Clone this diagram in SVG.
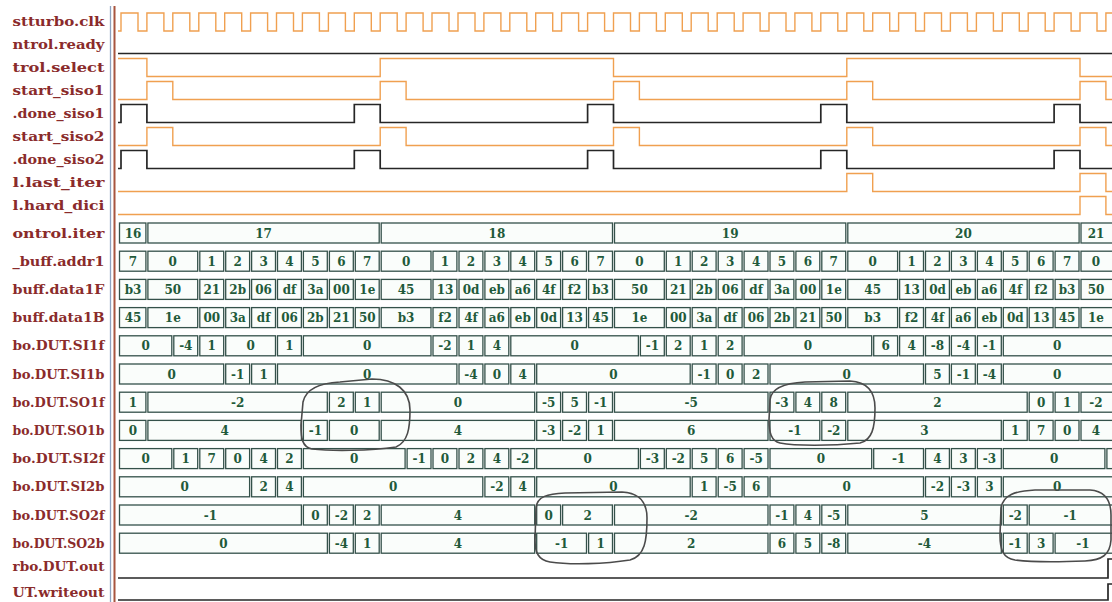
<svg xmlns="http://www.w3.org/2000/svg" xmlns:xlink="http://www.w3.org/1999/xlink" width="1112" height="602" viewBox="0 0 1112 602">
<style>
.lbl{font-family:"DejaVu Serif","Liberation Serif",serif;font-weight:bold;font-size:13px;fill:#8a2b2b;text-anchor:end}
.val{font-family:"DejaVu Serif","Liberation Serif",serif;font-weight:bold;font-size:12px;fill:#1f5a3a;text-anchor:middle}
.box{fill:#fafdfb;stroke:#34514a;stroke-width:1.3}
.org{fill:none;stroke:#f0a050;stroke-width:1.4}
.blk{fill:none;stroke:#262626;stroke-width:1.7}
.pen{fill:none;stroke:#4b4b4b;stroke-width:1.6;stroke-linejoin:round}
</style>
<defs>
<g id="cells9">
<rect class="box" x="119.5" y="0" width="26.4" height="20"/>
<rect class="box" x="147.9" y="0" width="49.8" height="20"/><rect class="box" x="199.8" y="0" width="23.9" height="20"/><rect class="box" x="225.7" y="0" width="23.9" height="20"/><rect class="box" x="251.6" y="0" width="23.9" height="20"/><rect class="box" x="277.5" y="0" width="23.9" height="20"/><rect class="box" x="303.4" y="0" width="23.9" height="20"/><rect class="box" x="329.4" y="0" width="23.9" height="20"/><rect class="box" x="355.3" y="0" width="23.9" height="20"/>
<rect class="box" x="381.2" y="0" width="49.8" height="20"/><rect class="box" x="433.0" y="0" width="23.9" height="20"/><rect class="box" x="459.0" y="0" width="23.9" height="20"/><rect class="box" x="484.9" y="0" width="23.9" height="20"/><rect class="box" x="510.8" y="0" width="23.9" height="20"/><rect class="box" x="536.7" y="0" width="23.9" height="20"/><rect class="box" x="562.6" y="0" width="23.9" height="20"/><rect class="box" x="588.6" y="0" width="23.9" height="20"/>
<rect class="box" x="614.5" y="0" width="49.8" height="20"/><rect class="box" x="666.3" y="0" width="23.9" height="20"/><rect class="box" x="692.2" y="0" width="23.9" height="20"/><rect class="box" x="718.2" y="0" width="23.9" height="20"/><rect class="box" x="744.1" y="0" width="23.9" height="20"/><rect class="box" x="770.0" y="0" width="23.9" height="20"/><rect class="box" x="795.9" y="0" width="23.9" height="20"/><rect class="box" x="821.8" y="0" width="23.9" height="20"/>
<rect class="box" x="847.8" y="0" width="49.8" height="20"/><rect class="box" x="899.6" y="0" width="23.9" height="20"/><rect class="box" x="925.5" y="0" width="23.9" height="20"/><rect class="box" x="951.4" y="0" width="23.9" height="20"/><rect class="box" x="977.4" y="0" width="23.9" height="20"/><rect class="box" x="1003.3" y="0" width="23.9" height="20"/><rect class="box" x="1029.2" y="0" width="23.9" height="20"/><rect class="box" x="1055.1" y="0" width="23.9" height="20"/>
<rect class="box" x="1081" y="0" width="37" height="20"/>
</g>
</defs>
<rect x="0" y="0" width="1112" height="602" fill="#ffffff"/>

<g id="labels">
<text class="lbl" x="104.5" y="26" textLength="92" lengthAdjust="spacingAndGlyphs">stturbo.clk</text>
<text class="lbl" x="104.5" y="48.5" textLength="92" lengthAdjust="spacingAndGlyphs">ntrol.ready</text>
<text class="lbl" x="104.5" y="71.5" textLength="92" lengthAdjust="spacingAndGlyphs">trol.select</text>
<text class="lbl" x="104.5" y="94.5" textLength="92" lengthAdjust="spacingAndGlyphs">start_siso1</text>
<text class="lbl" x="104.5" y="117.5" textLength="92" lengthAdjust="spacingAndGlyphs">.done_siso1</text>
<text class="lbl" x="104.5" y="140.5" textLength="92" lengthAdjust="spacingAndGlyphs">start_siso2</text>
<text class="lbl" x="104.5" y="163.5" textLength="92" lengthAdjust="spacingAndGlyphs">.done_siso2</text>
<text class="lbl" x="104.5" y="186.5" textLength="92" lengthAdjust="spacingAndGlyphs">l.last_iter</text>
<text class="lbl" x="104.5" y="209.5" textLength="92" lengthAdjust="spacingAndGlyphs">l.hard_dici</text>
<text class="lbl" x="104.5" y="237.5" textLength="92" lengthAdjust="spacingAndGlyphs">ontrol.iter</text>
<text class="lbl" x="104.5" y="265.7" textLength="92" lengthAdjust="spacingAndGlyphs">_buff.addr1</text>
<text class="lbl" x="104.5" y="293.9" textLength="92" lengthAdjust="spacingAndGlyphs">buff.data1F</text>
<text class="lbl" x="104.5" y="322.1" textLength="92" lengthAdjust="spacingAndGlyphs">buff.data1B</text>
<text class="lbl" x="104.5" y="350.3" textLength="92" lengthAdjust="spacingAndGlyphs">bo.DUT.SI1f</text>
<text class="lbl" x="104.5" y="378.5" textLength="92" lengthAdjust="spacingAndGlyphs">bo.DUT.SI1b</text>
<text class="lbl" x="104.5" y="406.7" textLength="92" lengthAdjust="spacingAndGlyphs">bo.DUT.SO1f</text>
<text class="lbl" x="104.5" y="434.9" textLength="92" lengthAdjust="spacingAndGlyphs">bo.DUT.SO1b</text>
<text class="lbl" x="104.5" y="463.1" textLength="92" lengthAdjust="spacingAndGlyphs">bo.DUT.SI2f</text>
<text class="lbl" x="104.5" y="491.3" textLength="92" lengthAdjust="spacingAndGlyphs">bo.DUT.SI2b</text>
<text class="lbl" x="104.5" y="519.5" textLength="92" lengthAdjust="spacingAndGlyphs">bo.DUT.SO2f</text>
<text class="lbl" x="104.5" y="547.7" textLength="92" lengthAdjust="spacingAndGlyphs">bo.DUT.SO2b</text>
<text class="lbl" x="104.5" y="570.5" textLength="92" lengthAdjust="spacingAndGlyphs">rbo.DUT.out</text>
<text class="lbl" x="104.5" y="596.5" textLength="92" lengthAdjust="spacingAndGlyphs">UT.writeout</text>
</g>

<g id="separators">
<line x1="110.5" y1="6" x2="110.5" y2="602" stroke="#8da2c0" stroke-width="1.3"/>
<line x1="114.5" y1="6" x2="114.5" y2="602" stroke="#a8553f" stroke-width="2"/>
</g>

<g id="sig-clk">
<path class="org" d="M118 31H121V13H138V31H146.9V13H163.9V31H172.8V13H189.8V31H198.8V13H215.8V31H224.7V13H241.7V31H250.6V13H267.6V31H276.5V13H293.5V31H302.4V13H319.4V31H328.4V13H345.4V31H354.3V13H371.3V31H380.2V13H397.2V31H406.1V13H423.1V31H432V13H449V31H458V13H475V31H483.9V13H500.9V31H509.8V13H526.8V31H535.7V13H552.7V31H561.6V13H578.6V31H587.6V13H604.6V31H613.5V13H630.5V31H639.4V13H656.4V31H665.3V13H682.3V31H691.2V13H708.2V31H717.2V13H734.2V31H743.1V13H760.1V31H769V13H786V31H794.9V13H811.9V31H820.8V13H837.8V31H846.8V13H863.8V31H872.7V13H889.7V31H898.6V13H915.6V31H924.5V13H941.5V31H950.4V13H967.4V31H976.4V13H993.4V31H1002.3V13H1019.3V31H1028.2V13H1045.2V31H1054.1V13H1071.1V31H1080V13H1097V31H1105.9V13H1114"/>
</g>
<g id="sig-ready"><path class="blk" d="M118 53.5H1114"/></g>
<g id="sig-select"><path class="org" d="M118 58.5H146.9V76.5H380.2V58.5H613.5V76.5H846.8V58.5H1080V76.5H1114"/></g>
<g id="sig-start1"><path class="org" d="M118 99.5H146.9V81.5H172.8V99.5H380.2V81.5H406.1V99.5H613.5V81.5H639.4V99.5H846.8V81.5H872.7V99.5H1080V81.5H1105.9V99.5H1114"/></g>
<g id="sig-done1"><path class="blk" d="M118 122.5H121V104.5H146.9V122.5H354.3V104.5H380.2V122.5H587.6V104.5H613.5V122.5H820.8V104.5H846.8V122.5H1054.1V104.5H1080V122.5H1114"/></g>
<g id="sig-start2"><path class="org" d="M118 145.5H146.9V127.5H172.8V145.5H380.2V127.5H406.1V145.5H613.5V127.5H639.4V145.5H846.8V127.5H872.7V145.5H1080V127.5H1105.9V145.5H1114"/></g>
<g id="sig-done2"><path class="blk" d="M118 168.5H121V150.5H146.9V168.5H354.3V150.5H380.2V168.5H587.6V150.5H613.5V168.5H820.8V150.5H846.8V168.5H1054.1V150.5H1080V168.5H1114"/></g>
<g id="sig-last"><path class="org" d="M118 191.5H846.8V173.5H872.7V191.5H1080V173.5H1105.9V191.5H1114"/></g>
<g id="sig-hard"><path class="org" d="M118 214.5H1080V196.5H1105.9V214.5H1114"/></g>

<g id="bus-iter" transform="translate(0,223)">
<rect class="box" x="119.5" y="0" width="26.4" height="20"/><rect class="box" x="147.9" y="0" width="231.3" height="20"/><rect class="box" x="381.2" y="0" width="231.3" height="20"/><rect class="box" x="614.5" y="0" width="231.3" height="20"/><rect class="box" x="847.8" y="0" width="231.3" height="20"/><rect class="box" x="1081" y="0" width="37" height="20"/>
<text class="val" x="133" y="14.5">16</text><text class="val" x="263.6" y="14.5">17</text><text class="val" x="496.9" y="14.5">18</text><text class="val" x="730.2" y="14.5">19</text><text class="val" x="963.4" y="14.5">20</text><text class="val" x="1096" y="14.5">21</text>
</g>

<g id="bus-addr1" transform="translate(0,251.2)">
<use xlink:href="#cells9"/>
<text class="val" x="133" y="14.5">7</text>
<text class="val" x="172.8" y="14.5">0</text><text class="val" x="211.8" y="14.5">1</text><text class="val" x="237.7" y="14.5">2</text><text class="val" x="263.6" y="14.5">3</text><text class="val" x="289.5" y="14.5">4</text><text class="val" x="315.4" y="14.5">5</text><text class="val" x="341.4" y="14.5">6</text><text class="val" x="367.3" y="14.5">7</text>
<text class="val" x="406.1" y="14.5">0</text><text class="val" x="445" y="14.5">1</text><text class="val" x="471" y="14.5">2</text><text class="val" x="496.9" y="14.5">3</text><text class="val" x="522.8" y="14.5">4</text><text class="val" x="548.7" y="14.5">5</text><text class="val" x="574.6" y="14.5">6</text><text class="val" x="600.6" y="14.5">7</text>
<text class="val" x="639.4" y="14.5">0</text><text class="val" x="678.3" y="14.5">1</text><text class="val" x="704.2" y="14.5">2</text><text class="val" x="730.2" y="14.5">3</text><text class="val" x="756.1" y="14.5">4</text><text class="val" x="782" y="14.5">5</text><text class="val" x="807.9" y="14.5">6</text><text class="val" x="833.8" y="14.5">7</text>
<text class="val" x="872.7" y="14.5">0</text><text class="val" x="911.6" y="14.5">1</text><text class="val" x="937.5" y="14.5">2</text><text class="val" x="963.4" y="14.5">3</text><text class="val" x="989.4" y="14.5">4</text><text class="val" x="1015.3" y="14.5">5</text><text class="val" x="1041.2" y="14.5">6</text><text class="val" x="1067.1" y="14.5">7</text>
<text class="val" x="1096" y="14.5">0</text>
</g>

<g id="bus-data1F" transform="translate(0,279.4)">
<use xlink:href="#cells9"/>
<text class="val" x="133" y="14.5">b3</text>
<text class="val" x="172.8" y="14.5">50</text><text class="val" x="211.8" y="14.5">21</text><text class="val" x="237.7" y="14.5">2b</text><text class="val" x="263.6" y="14.5">06</text><text class="val" x="289.5" y="14.5">df</text><text class="val" x="315.4" y="14.5">3a</text><text class="val" x="341.4" y="14.5">00</text><text class="val" x="367.3" y="14.5">1e</text>
<text class="val" x="406.1" y="14.5">45</text><text class="val" x="445" y="14.5">13</text><text class="val" x="471" y="14.5">0d</text><text class="val" x="496.9" y="14.5">eb</text><text class="val" x="522.8" y="14.5">a6</text><text class="val" x="548.7" y="14.5">4f</text><text class="val" x="574.6" y="14.5">f2</text><text class="val" x="600.6" y="14.5">b3</text>
<text class="val" x="639.4" y="14.5">50</text><text class="val" x="678.3" y="14.5">21</text><text class="val" x="704.2" y="14.5">2b</text><text class="val" x="730.2" y="14.5">06</text><text class="val" x="756.1" y="14.5">df</text><text class="val" x="782" y="14.5">3a</text><text class="val" x="807.9" y="14.5">00</text><text class="val" x="833.8" y="14.5">1e</text>
<text class="val" x="872.7" y="14.5">45</text><text class="val" x="911.6" y="14.5">13</text><text class="val" x="937.5" y="14.5">0d</text><text class="val" x="963.4" y="14.5">eb</text><text class="val" x="989.4" y="14.5">a6</text><text class="val" x="1015.3" y="14.5">4f</text><text class="val" x="1041.2" y="14.5">f2</text><text class="val" x="1067.1" y="14.5">b3</text>
<text class="val" x="1096" y="14.5">50</text>
</g>

<g id="bus-data1B" transform="translate(0,307.6)">
<use xlink:href="#cells9"/>
<text class="val" x="133" y="14.5">45</text>
<text class="val" x="172.8" y="14.5">1e</text><text class="val" x="211.8" y="14.5">00</text><text class="val" x="237.7" y="14.5">3a</text><text class="val" x="263.6" y="14.5">df</text><text class="val" x="289.5" y="14.5">06</text><text class="val" x="315.4" y="14.5">2b</text><text class="val" x="341.4" y="14.5">21</text><text class="val" x="367.3" y="14.5">50</text>
<text class="val" x="406.1" y="14.5">b3</text><text class="val" x="445" y="14.5">f2</text><text class="val" x="471" y="14.5">4f</text><text class="val" x="496.9" y="14.5">a6</text><text class="val" x="522.8" y="14.5">eb</text><text class="val" x="548.7" y="14.5">0d</text><text class="val" x="574.6" y="14.5">13</text><text class="val" x="600.6" y="14.5">45</text>
<text class="val" x="639.4" y="14.5">1e</text><text class="val" x="678.3" y="14.5">00</text><text class="val" x="704.2" y="14.5">3a</text><text class="val" x="730.2" y="14.5">df</text><text class="val" x="756.1" y="14.5">06</text><text class="val" x="782" y="14.5">2b</text><text class="val" x="807.9" y="14.5">21</text><text class="val" x="833.8" y="14.5">50</text>
<text class="val" x="872.7" y="14.5">b3</text><text class="val" x="911.6" y="14.5">f2</text><text class="val" x="937.5" y="14.5">4f</text><text class="val" x="963.4" y="14.5">a6</text><text class="val" x="989.4" y="14.5">eb</text><text class="val" x="1015.3" y="14.5">0d</text><text class="val" x="1041.2" y="14.5">13</text><text class="val" x="1067.1" y="14.5">45</text>
<text class="val" x="1096" y="14.5">1e</text>
</g>

<g id="bus-SI1f" transform="translate(0,335.8)">
<rect class="box" x="119.5" y="0" width="52.3" height="20"/><rect class="box" x="173.8" y="0" width="23.9" height="20"/><rect class="box" x="199.8" y="0" width="23.9" height="20"/><rect class="box" x="225.7" y="0" width="49.8" height="20"/><rect class="box" x="277.5" y="0" width="23.9" height="20"/><rect class="box" x="303.4" y="0" width="127.6" height="20"/><rect class="box" x="433" y="0" width="23.9" height="20"/><rect class="box" x="459" y="0" width="23.9" height="20"/><rect class="box" x="484.9" y="0" width="23.9" height="20"/><rect class="box" x="510.8" y="0" width="127.6" height="20"/><rect class="box" x="640.4" y="0" width="23.9" height="20"/><rect class="box" x="666.3" y="0" width="23.9" height="20"/><rect class="box" x="692.2" y="0" width="23.9" height="20"/><rect class="box" x="718.2" y="0" width="23.9" height="20"/><rect class="box" x="744.1" y="0" width="127.6" height="20"/><rect class="box" x="873.7" y="0" width="23.9" height="20"/><rect class="box" x="899.6" y="0" width="23.9" height="20"/><rect class="box" x="925.5" y="0" width="23.9" height="20"/><rect class="box" x="951.4" y="0" width="23.9" height="20"/><rect class="box" x="977.4" y="0" width="23.9" height="20"/><rect class="box" x="1003.3" y="0" width="114.7" height="20"/>
<text class="val" x="145.7" y="14.5">0</text><text class="val" x="185.8" y="14.5">-4</text><text class="val" x="211.8" y="14.5">1</text><text class="val" x="250.6" y="14.5">0</text><text class="val" x="289.5" y="14.5">1</text><text class="val" x="367.2" y="14.5">0</text><text class="val" x="445" y="14.5">-2</text><text class="val" x="471" y="14.5">1</text><text class="val" x="496.9" y="14.5">4</text><text class="val" x="574.6" y="14.5">0</text><text class="val" x="652.4" y="14.5">-1</text><text class="val" x="678.3" y="14.5">2</text><text class="val" x="704.2" y="14.5">1</text><text class="val" x="730.2" y="14.5">2</text><text class="val" x="807.9" y="14.5">0</text><text class="val" x="885.7" y="14.5">6</text><text class="val" x="911.6" y="14.5">4</text><text class="val" x="937.5" y="14.5">-8</text><text class="val" x="963.4" y="14.5">-4</text><text class="val" x="989.4" y="14.5">-1</text><text class="val" x="1057.2" y="14.5">0</text>
</g>

<g id="bus-SI1b" transform="translate(0,364)">
<rect class="box" x="119.5" y="0" width="104.2" height="20"/><rect class="box" x="225.7" y="0" width="23.9" height="20"/><rect class="box" x="251.6" y="0" width="23.9" height="20"/><rect class="box" x="277.5" y="0" width="179.4" height="20"/><rect class="box" x="459" y="0" width="23.9" height="20"/><rect class="box" x="484.9" y="0" width="23.9" height="20"/><rect class="box" x="510.8" y="0" width="23.9" height="20"/><rect class="box" x="536.7" y="0" width="153.5" height="20"/><rect class="box" x="692.2" y="0" width="23.9" height="20"/><rect class="box" x="718.2" y="0" width="23.9" height="20"/><rect class="box" x="744.1" y="0" width="23.9" height="20"/><rect class="box" x="770" y="0" width="153.5" height="20"/><rect class="box" x="925.5" y="0" width="23.9" height="20"/><rect class="box" x="951.4" y="0" width="23.9" height="20"/><rect class="box" x="977.4" y="0" width="23.9" height="20"/><rect class="box" x="1003.3" y="0" width="114.7" height="20"/>
<text class="val" x="171.6" y="14.5">0</text><text class="val" x="237.7" y="14.5">-1</text><text class="val" x="263.6" y="14.5">1</text><text class="val" x="367.3" y="14.5">0</text><text class="val" x="471" y="14.5">-4</text><text class="val" x="496.9" y="14.5">0</text><text class="val" x="522.8" y="14.5">4</text><text class="val" x="613.5" y="14.5">0</text><text class="val" x="704.2" y="14.5">-1</text><text class="val" x="730.2" y="14.5">0</text><text class="val" x="756.1" y="14.5">2</text><text class="val" x="846.8" y="14.5">0</text><text class="val" x="937.5" y="14.5">5</text><text class="val" x="963.4" y="14.5">-1</text><text class="val" x="989.4" y="14.5">-4</text><text class="val" x="1057.2" y="14.5">0</text>
</g>

<g id="bus-SO1f" transform="translate(0,392.2)">
<rect class="box" x="119.5" y="0" width="26.4" height="20"/><rect class="box" x="147.9" y="0" width="179.4" height="20"/><rect class="box" x="329.4" y="0" width="23.9" height="20"/><rect class="box" x="355.3" y="0" width="23.9" height="20"/><rect class="box" x="381.2" y="0" width="153.5" height="20"/><rect class="box" x="536.7" y="0" width="23.9" height="20"/><rect class="box" x="562.6" y="0" width="23.9" height="20"/><rect class="box" x="588.6" y="0" width="23.9" height="20"/><rect class="box" x="614.5" y="0" width="153.5" height="20"/><rect class="box" x="770" y="0" width="23.9" height="20"/><rect class="box" x="795.9" y="0" width="23.9" height="20"/><rect class="box" x="821.8" y="0" width="23.9" height="20"/><rect class="box" x="847.8" y="0" width="179.4" height="20"/><rect class="box" x="1029.2" y="0" width="23.9" height="20"/><rect class="box" x="1055.1" y="0" width="23.9" height="20"/><rect class="box" x="1081" y="0" width="37" height="20"/>
<text class="val" x="133" y="14.5">1</text><text class="val" x="237.6" y="14.5">-2</text><text class="val" x="341.4" y="14.5">2</text><text class="val" x="367.3" y="14.5">1</text><text class="val" x="458" y="14.5">0</text><text class="val" x="548.7" y="14.5">-5</text><text class="val" x="574.6" y="14.5">5</text><text class="val" x="600.6" y="14.5">-1</text><text class="val" x="691.2" y="14.5">-5</text><text class="val" x="782" y="14.5">-3</text><text class="val" x="807.9" y="14.5">4</text><text class="val" x="833.8" y="14.5">8</text><text class="val" x="937.5" y="14.5">2</text><text class="val" x="1041.2" y="14.5">0</text><text class="val" x="1067.1" y="14.5">1</text><text class="val" x="1096" y="14.5">-2</text>
</g>

<g id="bus-SO1b" transform="translate(0,420.4)">
<rect class="box" x="119.5" y="0" width="26.4" height="20"/><rect class="box" x="147.9" y="0" width="153.5" height="20"/><rect class="box" x="303.4" y="0" width="23.9" height="20"/><rect class="box" x="329.4" y="0" width="49.8" height="20"/><rect class="box" x="381.2" y="0" width="153.5" height="20"/><rect class="box" x="536.7" y="0" width="23.9" height="20"/><rect class="box" x="562.6" y="0" width="23.9" height="20"/><rect class="box" x="588.6" y="0" width="23.9" height="20"/><rect class="box" x="614.5" y="0" width="153.5" height="20"/><rect class="box" x="770" y="0" width="49.8" height="20"/><rect class="box" x="821.8" y="0" width="23.9" height="20"/><rect class="box" x="847.8" y="0" width="153.5" height="20"/><rect class="box" x="1003.3" y="0" width="23.9" height="20"/><rect class="box" x="1029.2" y="0" width="23.9" height="20"/><rect class="box" x="1055.1" y="0" width="23.9" height="20"/><rect class="box" x="1081" y="0" width="37" height="20"/>
<text class="val" x="133" y="14.5">0</text><text class="val" x="224.6" y="14.5">4</text><text class="val" x="315.4" y="14.5">-1</text><text class="val" x="354.3" y="14.5">0</text><text class="val" x="458" y="14.5">4</text><text class="val" x="548.7" y="14.5">-3</text><text class="val" x="574.6" y="14.5">-2</text><text class="val" x="600.6" y="14.5">1</text><text class="val" x="691.2" y="14.5">6</text><text class="val" x="794.9" y="14.5">-1</text><text class="val" x="833.8" y="14.5">-2</text><text class="val" x="924.5" y="14.5">3</text><text class="val" x="1015.3" y="14.5">1</text><text class="val" x="1041.2" y="14.5">7</text><text class="val" x="1067.1" y="14.5">0</text><text class="val" x="1096" y="14.5">4</text>
</g>

<g id="bus-SI2f" transform="translate(0,448.6)">
<rect class="box" x="119.5" y="0" width="52.3" height="20"/><rect class="box" x="173.8" y="0" width="23.9" height="20"/><rect class="box" x="199.8" y="0" width="23.9" height="20"/><rect class="box" x="225.7" y="0" width="23.9" height="20"/><rect class="box" x="251.6" y="0" width="23.9" height="20"/><rect class="box" x="277.5" y="0" width="23.9" height="20"/><rect class="box" x="303.4" y="0" width="101.7" height="20"/><rect class="box" x="407.1" y="0" width="23.9" height="20"/><rect class="box" x="433" y="0" width="23.9" height="20"/><rect class="box" x="459" y="0" width="23.9" height="20"/><rect class="box" x="484.9" y="0" width="23.9" height="20"/><rect class="box" x="510.8" y="0" width="23.9" height="20"/><rect class="box" x="536.7" y="0" width="101.7" height="20"/><rect class="box" x="640.4" y="0" width="23.9" height="20"/><rect class="box" x="666.3" y="0" width="23.9" height="20"/><rect class="box" x="692.2" y="0" width="23.9" height="20"/><rect class="box" x="718.2" y="0" width="23.9" height="20"/><rect class="box" x="744.1" y="0" width="23.9" height="20"/><rect class="box" x="770" y="0" width="101.7" height="20"/><rect class="box" x="873.7" y="0" width="49.8" height="20"/><rect class="box" x="925.5" y="0" width="23.9" height="20"/><rect class="box" x="951.4" y="0" width="23.9" height="20"/><rect class="box" x="977.4" y="0" width="23.9" height="20"/><rect class="box" x="1003.3" y="0" width="101.6" height="20"/><rect class="box" x="1106.9" y="0" width="12" height="20"/>
<text class="val" x="145.7" y="14.5">0</text><text class="val" x="185.8" y="14.5">1</text><text class="val" x="211.8" y="14.5">7</text><text class="val" x="237.7" y="14.5">0</text><text class="val" x="263.6" y="14.5">4</text><text class="val" x="289.5" y="14.5">2</text><text class="val" x="354.3" y="14.5">0</text><text class="val" x="419.1" y="14.5">-1</text><text class="val" x="445" y="14.5">0</text><text class="val" x="471" y="14.5">2</text><text class="val" x="496.9" y="14.5">4</text><text class="val" x="522.8" y="14.5">-2</text><text class="val" x="587.6" y="14.5">0</text><text class="val" x="652.4" y="14.5">-3</text><text class="val" x="678.3" y="14.5">-2</text><text class="val" x="704.2" y="14.5">5</text><text class="val" x="730.2" y="14.5">6</text><text class="val" x="756.1" y="14.5">-5</text><text class="val" x="820.9" y="14.5">0</text><text class="val" x="898.6" y="14.5">-1</text><text class="val" x="937.5" y="14.5">4</text><text class="val" x="963.4" y="14.5">3</text><text class="val" x="989.4" y="14.5">-3</text><text class="val" x="1054.1" y="14.5">0</text>
</g>

<g id="bus-SI2b" transform="translate(0,476.8)">
<rect class="box" x="119.5" y="0" width="130.1" height="20"/><rect class="box" x="251.6" y="0" width="23.9" height="20"/><rect class="box" x="277.5" y="0" width="23.9" height="20"/><rect class="box" x="303.4" y="0" width="179.4" height="20"/><rect class="box" x="484.9" y="0" width="23.9" height="20"/><rect class="box" x="510.8" y="0" width="23.9" height="20"/><rect class="box" x="536.7" y="0" width="153.5" height="20"/><rect class="box" x="692.2" y="0" width="23.9" height="20"/><rect class="box" x="718.2" y="0" width="23.9" height="20"/><rect class="box" x="744.1" y="0" width="23.9" height="20"/><rect class="box" x="770" y="0" width="153.5" height="20"/><rect class="box" x="925.5" y="0" width="23.9" height="20"/><rect class="box" x="951.4" y="0" width="23.9" height="20"/><rect class="box" x="977.4" y="0" width="23.9" height="20"/><rect class="box" x="1003.3" y="0" width="114.7" height="20"/>
<text class="val" x="184.6" y="14.5">0</text><text class="val" x="263.6" y="14.5">2</text><text class="val" x="289.5" y="14.5">4</text><text class="val" x="393.2" y="14.5">0</text><text class="val" x="496.9" y="14.5">-2</text><text class="val" x="522.8" y="14.5">4</text><text class="val" x="613.5" y="14.5">0</text><text class="val" x="704.2" y="14.5">1</text><text class="val" x="730.2" y="14.5">-5</text><text class="val" x="756.1" y="14.5">6</text><text class="val" x="846.8" y="14.5">0</text><text class="val" x="937.5" y="14.5">-2</text><text class="val" x="963.4" y="14.5">-3</text><text class="val" x="989.4" y="14.5">3</text><text class="val" x="1057.2" y="14.5">0</text>
</g>

<g id="bus-SO2f" transform="translate(0,505)">
<rect class="box" x="119.5" y="0" width="181.9" height="20"/><rect class="box" x="303.4" y="0" width="23.9" height="20"/><rect class="box" x="329.4" y="0" width="23.9" height="20"/><rect class="box" x="355.3" y="0" width="23.9" height="20"/><rect class="box" x="381.2" y="0" width="153.5" height="20"/><rect class="box" x="536.7" y="0" width="23.9" height="20"/><rect class="box" x="562.6" y="0" width="49.8" height="20"/><rect class="box" x="614.5" y="0" width="153.5" height="20"/><rect class="box" x="770" y="0" width="23.9" height="20"/><rect class="box" x="795.9" y="0" width="23.9" height="20"/><rect class="box" x="821.8" y="0" width="23.9" height="20"/><rect class="box" x="847.8" y="0" width="153.5" height="20"/><rect class="box" x="1003.3" y="0" width="23.9" height="20"/><rect class="box" x="1029.2" y="0" width="88.8" height="20"/>
<text class="val" x="210.5" y="14.5">-1</text><text class="val" x="315.4" y="14.5">0</text><text class="val" x="341.4" y="14.5">-2</text><text class="val" x="367.3" y="14.5">2</text><text class="val" x="458" y="14.5">4</text><text class="val" x="548.7" y="14.5">0</text><text class="val" x="587.6" y="14.5">2</text><text class="val" x="691.2" y="14.5">-2</text><text class="val" x="782" y="14.5">-1</text><text class="val" x="807.9" y="14.5">4</text><text class="val" x="833.8" y="14.5">-5</text><text class="val" x="924.5" y="14.5">5</text><text class="val" x="1015.3" y="14.5">-2</text><text class="val" x="1070.1" y="14.5">-1</text>
</g>

<g id="bus-SO2b" transform="translate(0,533.2)">
<rect class="box" x="119.5" y="0" width="207.9" height="20"/><rect class="box" x="329.4" y="0" width="23.9" height="20"/><rect class="box" x="355.3" y="0" width="23.9" height="20"/><rect class="box" x="381.2" y="0" width="153.5" height="20"/><rect class="box" x="536.7" y="0" width="49.8" height="20"/><rect class="box" x="588.6" y="0" width="23.9" height="20"/><rect class="box" x="614.5" y="0" width="153.5" height="20"/><rect class="box" x="770" y="0" width="23.9" height="20"/><rect class="box" x="795.9" y="0" width="23.9" height="20"/><rect class="box" x="821.8" y="0" width="23.9" height="20"/><rect class="box" x="847.8" y="0" width="153.5" height="20"/><rect class="box" x="1003.3" y="0" width="23.9" height="20"/><rect class="box" x="1029.2" y="0" width="23.9" height="20"/><rect class="box" x="1055.1" y="0" width="62.9" height="20"/>
<text class="val" x="223.5" y="14.5">0</text><text class="val" x="341.4" y="14.5">-4</text><text class="val" x="367.3" y="14.5">1</text><text class="val" x="458" y="14.5">4</text><text class="val" x="561.6" y="14.5">-1</text><text class="val" x="600.6" y="14.5">1</text><text class="val" x="691.2" y="14.5">2</text><text class="val" x="782" y="14.5">6</text><text class="val" x="807.9" y="14.5">5</text><text class="val" x="833.8" y="14.5">-8</text><text class="val" x="924.5" y="14.5">-4</text><text class="val" x="1015.3" y="14.5">-1</text><text class="val" x="1041.2" y="14.5">3</text><text class="val" x="1083" y="14.5">-1</text>
</g>

<g id="sig-out"><path class="blk" d="M118 578H1108V559H1114"/></g>
<g id="sig-writeout"><path class="blk" stroke-width="2.2" d="M118 600H1108V584H1114"/></g>

<g id="annotations">
<path class="pen" d="M303 402C306 388 320 383 340 382L372 379C395 379 410 390 410 410C410 428 408 442 396 447C370 451 330 451 312 449C302 447 301 438 301 425Z"/>
<path class="pen" d="M536 508C537 496 548 494 565 493L622 492C640 493 647 502 647 518C647 540 645 556 630 560C605 564 570 565 550 562C538 560 535 552 535 540Z"/>
<path class="pen" d="M770 400C771 388 785 383 805 382L850 381C868 382 875 392 875 408C875 428 872 440 860 443C830 446 795 446 780 443C771 441 769 432 769 420Z"/>
<path class="pen" d="M1001 508C1003 495 1015 491 1035 490L1090 490C1105 491 1111 500 1111 515L1111 540C1110 555 1102 560 1085 561C1060 562 1030 562 1015 560C1003 558 1000 550 1000 535Z"/>
</g>
</svg>
